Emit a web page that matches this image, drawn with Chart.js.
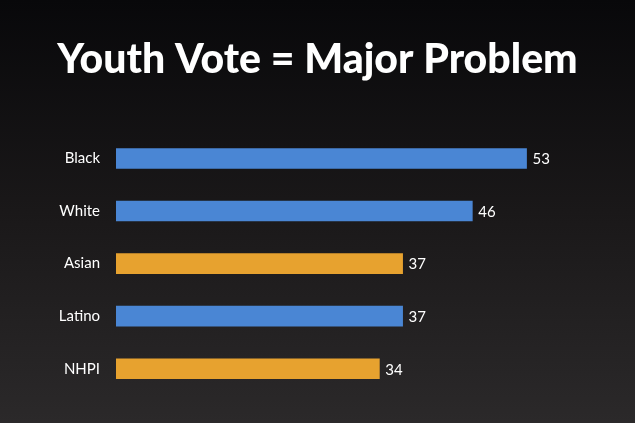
<!DOCTYPE html>
<html>
<head>
<meta charset="utf-8">
<script src="https://cdn.jsdelivr.net/npm/chart.js@4"></script>
<style>
  html, body { margin: 0; padding: 0; background: #141315; }
  #wrap { width: 635px; height: 423px; position: relative; }
</style>
</head>
<body>
<div id="wrap"><canvas id="chart"></canvas></div>
<script>
const titleText = 'Youth Vote = Major Problem';
const groups = ['Black', 'White', 'Asian', 'Latino', 'NHPI'];
const shares = [53, 46, 37, 37, 34];
const barColors = ['#4a86d4', '#4a86d4', '#e7a22f', '#4a86d4', '#e7a22f'];

// dark vertical gradient behind everything
const backdrop = {
  id: 'backdrop',
  beforeDraw(chart) {
    const { ctx, width, height } = chart;
    const g = ctx.createLinearGradient(0, 0, 0, height);
    g.addColorStop(0, '#08080a');
    g.addColorStop(0.5, '#1a1819');
    g.addColorStop(1, '#2b292a');
    ctx.save();
    ctx.fillStyle = g;
    ctx.fillRect(0, 0, width, height);
    ctx.restore();
  }
};

// numbers at the end of each bar
const valueLabels = {
  id: 'valueLabels',
  afterDatasetsDraw(chart) {
    const { ctx } = chart;
    const meta = chart.getDatasetMeta(0);
    ctx.save();
    ctx.fillStyle = '#ffffff';
    ctx.font = '15px Lato';
    ctx.textAlign = 'left';
    ctx.textBaseline = 'middle';
    meta.data.forEach((bar, i) => {
      ctx.fillText(shares[i], bar.x + 6, bar.y + 1);
    });
    ctx.restore();
  }
};

new Chart(document.getElementById('chart'), {
  type: 'bar',
  data: {
    labels: groups,
    datasets: [{
      data: shares,
      backgroundColor: barColors,
      borderWidth: 0,
      barThickness: 20
    }]
  },
  options: {
    indexAxis: 'y',
    responsive: true,
    maintainAspectRatio: false,
    animation: false,
    layout: { padding: { top: 0, right: 0, bottom: 28, left: 0 } },
    scales: {
      x: {
        display: false,
        min: 0,
        max: 67
      },
      y: {
        grid: { display: false },
        border: { display: false },
        ticks: {
          color: '#ffffff',
          font: { family: 'Lato', size: 15 },
          padding: 8
        },
        afterFit(scale) { scale.width = 116; }
      }
    },
    plugins: {
      legend: { display: false },
      tooltip: { enabled: false },
      title: {
        display: true,
        text: titleText,
        color: '#ffffff',
        font: { family: 'Lato', size: 41, weight: '900' },
        padding: { top: 35, bottom: 48 }
      }
    }
  },
  plugins: [backdrop, valueLabels]
});
</script>
</body>
</html>
